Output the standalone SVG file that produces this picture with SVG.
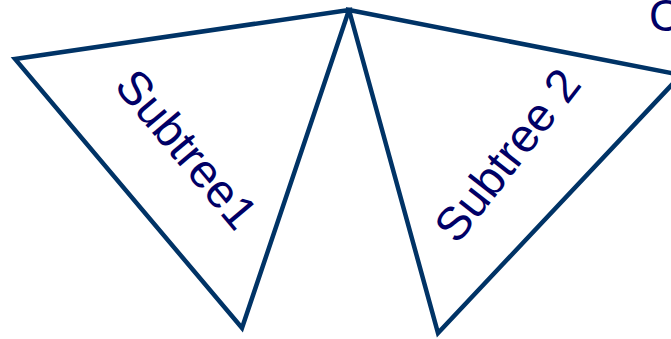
<svg xmlns="http://www.w3.org/2000/svg" width="671" height="339" viewBox="0 0 671 339">
<style>
.tri{fill:#fff;stroke:#003366;stroke-width:4.5;stroke-linejoin:miter}
.lbl{font-family:"Liberation Sans",Arial,sans-serif;font-size:47px;fill:#000066;text-anchor:middle;dominant-baseline:central}
</style>
<rect width="671" height="339" fill="#fff"/>
<g id="subtree1">
<polygon class="tri" points="15,59 349,10 242,328"/>
<text class="lbl" transform="translate(187,149) rotate(50)">Subtree1</text>
</g>
<g id="subtree2">
<polygon class="tri" points="349,10 681,75 438,333"/>
<text class="lbl" transform="translate(507,155) rotate(-52)">Subtree 2</text>
</g>
<g id="label-c">
<text class="lbl" x="665" y="15" style="font-size:44px">C</text>
</g>
</svg>
